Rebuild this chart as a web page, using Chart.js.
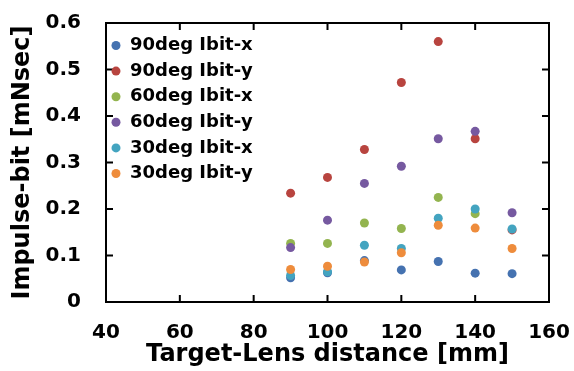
<!DOCTYPE html>
<html>
<head>
<meta charset="utf-8">
<script src="https://cdn.jsdelivr.net/npm/chart.js@4/dist/chart.umd.min.js"></script>
<style>
  body { margin: 0; background: #fff; }
  #wrap { width: 574px; height: 371px; }
</style>
</head>
<body>
<div id="wrap"><canvas id="chart" width="574" height="371"></canvas></div>
<script>
// distances [mm]
const distances = [90, 100, 110, 120, 130, 140, 150]

// impulse-bit [mNsec], one list per series
const deg90x = [0.052, 0.063, 0.089, 0.069, 0.087, 0.062, 0.061]
const deg90y = [0.234, 0.268, 0.328, 0.472, 0.560, 0.351, 0.155]
const deg60x = [0.126, 0.126, 0.170, 0.158, 0.225, 0.190, null]
const deg60y = [0.117, 0.176, 0.255, 0.292, 0.351, 0.367, 0.192]
const deg30x = [0.057, 0.065, 0.122, 0.115, 0.180, 0.200, 0.157]
const deg30y = [0.070, 0.077, 0.086, 0.106, 0.165, 0.159, 0.115]

const seriesNames = ['90deg Ibit-x', '90deg Ibit-y', '60deg Ibit-x', '60deg Ibit-y', '30deg Ibit-x', '30deg Ibit-y']
const seriesColors = ['#4572B0', '#B8443F', '#93B44F', '#7659A0', '#43A4C0', '#EE8C3C']

const xTicks = [40, 60, 80, 100, 120, 140, 160]
const yTicks = [0, 0.1, 0.2, 0.3, 0.4, 0.5, 0.6]
const yTickLabels = ['0', '0.1', '0.2', '0.3', '0.4', '0.5', '0.6']

const allSeries = [deg90x, deg90y, deg60x, deg60y, deg30x, deg30y]

function toPoints(vals) {
  const pts = []
  vals.forEach((v, i) => {
    if (v !== null) pts.push({ x: distances[i], y: v })
  })
  return pts
}

const FONT = "'DejaVu Sans', Verdana, sans-serif"

// frame with inward ticks on all four sides
const framePlugin = {
  id: 'frame',
  afterDraw(chart) {
    const ctx = chart.ctx
    const a = chart.chartArea
    const xs = chart.scales.x, ys = chart.scales.y
    const len = 7
    ctx.save()
    ctx.strokeStyle = '#000'
    ctx.lineWidth = 2
    ctx.strokeRect(a.left, a.top, a.right - a.left, a.bottom - a.top)
    ctx.beginPath()
    xTicks.forEach(t => {
      const px = xs.getPixelForValue(t)
      ctx.moveTo(px, a.bottom); ctx.lineTo(px, a.bottom - len)
      ctx.moveTo(px, a.top); ctx.lineTo(px, a.top + len)
    })
    yTicks.forEach(t => {
      const py = ys.getPixelForValue(t)
      ctx.moveTo(a.left, py); ctx.lineTo(a.left + len, py)
      ctx.moveTo(a.right, py); ctx.lineTo(a.right - len, py)
    })
    ctx.stroke()
    ctx.restore()
  }
}

// legend drawn inside the plot, top-left
const innerLegend = {
  id: 'innerLegend',
  afterDraw(chart) {
    const ctx = chart.ctx
    const a = chart.chartArea
    ctx.save()
    ctx.font = 'bold 18px ' + FONT
    ctx.textBaseline = 'middle'
    ctx.fillStyle = '#000'
    chart.data.datasets.forEach((ds, i) => {
      const y = a.top + 22.5 + i * 25.6
      ctx.beginPath()
      ctx.arc(a.left + 10, y, 4.5, 0, Math.PI * 2)
      ctx.fillStyle = ds.backgroundColor
      ctx.fill()
      ctx.fillStyle = '#000'
      ctx.fillText(ds.label, a.left + 24, y)
    })
    ctx.restore()
  }
}

function noPad(sc) {
  sc.paddingTop = 0
  sc.paddingBottom = 0
  sc.paddingLeft = 0
  sc.paddingRight = 0
}

const ctx = document.getElementById('chart').getContext('2d')
new Chart(ctx, {
  type: 'scatter',
  data: {
    datasets: allSeries.map((s, i) => ({
      label: seriesNames[i],
      data: toPoints(s),
      backgroundColor: seriesColors[i],
      borderColor: seriesColors[i],
      borderWidth: 0,
      pointRadius: 4.5,
      pointHoverRadius: 4.5,
      // later series drawn on top, like the original
      order: allSeries.length - i
    }))
  },
  options: {
    responsive: false,
    animation: false,
    layout: { padding: { top: 23, right: 25, left: 0, bottom: 0 } },
    plugins: { legend: { display: false }, tooltip: { enabled: false } },
    scales: {
      x: {
        type: 'linear',
        min: 40, max: 160,
        afterBuildTicks: sc => { sc.ticks = xTicks.map(v => ({ value: v })) },
        afterFit: sc => { sc.height = 69; noPad(sc) },
        grid: { display: false, drawTicks: false },
        border: { display: false },
        ticks: { color: '#000', padding: 19, font: { family: FONT, size: 20, weight: 'bold' } },
        title: {
          display: true, text: 'Target-Lens distance [mm]', color: '#000',
          font: { family: FONT, size: 24, weight: 'bold' },
          padding: { top: 0, bottom: 2 }
        }
      },
      y: {
        type: 'linear',
        min: 0, max: 0.6,
        afterBuildTicks: sc => { sc.ticks = yTicks.map(v => ({ value: v })) },
        afterFit: sc => { sc.width = 106; noPad(sc) },
        grid: { display: false, drawTicks: false },
        border: { display: false },
        ticks: {
          color: '#000', padding: 25,
          font: { family: FONT, size: 20, weight: 'bold' },
          callback: (v, i) => yTickLabels[i]
        },
        title: {
          display: true, text: 'Impulse-bit [mNsec]', color: '#000',
          font: { family: FONT, size: 24, weight: 'bold' },
          padding: { top: 8, bottom: 0 }
        }
      }
    }
  },
  plugins: [framePlugin, innerLegend]
})
</script>
</body>
</html>
